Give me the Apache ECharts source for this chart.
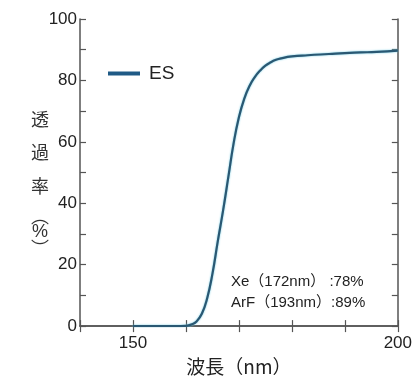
<!DOCTYPE html>
<html><head><meta charset="utf-8">
<script src="https://cdn.jsdelivr.net/npm/echarts@6/dist/echarts.min.js"></script>
<style>html,body{margin:0;padding:0;background:#fff}#c{width:415px;height:381px}</style>
</head><body><div id="c"></div>
<script>
const wavelength = [150,155,158,160,161,162,163,164,165,166,167,168,169,170,171,172,173,174,175,176,177,178,180,183,187,190,193,196,200];
const transmittance = [0,0,0,0.1,0.5,1.5,4,9,17,27.5,37.5,48.5,59.5,68,74,78.2,81.1,83.2,84.8,85.9,86.7,87.2,87.8,88.2,88.6,88.9,89.1,89.3,89.7];
const xTickLabels = [150, 200];
const yTickLabels = [0,20,40,60,80,100];
const seriesName = 'ES';
const notes = ['Xe（172nm） :78%', 'ArF（193nm）:89%'];

const FONT = '"Liberation Sans", Arial, "Noto Sans CJK JP", sans-serif';
const CJK = '"Noto Sans CJK JP", sans-serif';
const axisCol = '#555';
const chart = echarts.init(document.getElementById('c'));
const tickStyle = {show:true, inside:true, length:6, lineStyle:{color:axisCol, width:1.2}};
chart.setOption({
  animation:false,
  grid:{left:80, right:15, top:19, bottom:47},
  xAxis:[{
    type:'value', min:140, max:200, interval:10, position:'bottom',
    axisLine:{show:true, lineStyle:{color:axisCol, width:1.5}},
    axisTick:tickStyle, splitLine:{show:false},
    axisLabel:{color:'#222', fontSize:17, fontFamily:FONT, margin:9,
      formatter:v => xTickLabels.includes(v) ? String(v) : ''},
    name:'波長（nm）', nameLocation:'middle', nameGap:28,
    nameTextStyle:{color:'#222', fontSize:19, fontFamily:CJK}
  },{
    type:'value', min:140, max:200, interval:10, position:'top',
    axisLine:{show:true, lineStyle:{color:axisCol, width:1.5}},
    axisTick:tickStyle, axisLabel:{show:false}, splitLine:{show:false}
  }],
  yAxis:[{
    type:'value', min:0, max:100, interval:10, position:'left',
    axisLine:{show:true, lineStyle:{color:axisCol, width:1.5}},
    axisTick:tickStyle, splitLine:{show:false},
    axisLabel:{color:'#222', fontSize:17, fontFamily:FONT, margin:3,
      formatter:v => yTickLabels.includes(v) ? String(v) : ''}
  },{
    type:'value', min:0, max:100, interval:10, position:'right',
    axisLine:{show:true, lineStyle:{color:axisCol, width:1.5}},
    axisTick:tickStyle, axisLabel:{show:false}, splitLine:{show:false}
  }],
  legend:{show:true, left:103, top:59, icon:'rect', itemWidth:32, itemHeight:4, itemGap:0,
    textStyle:{color:'#222', fontSize:19, fontFamily:FONT, padding:[0,0,0,4]},
    data:[{name:seriesName, itemStyle:{color:'#1f5a86'}}]},
  series:[{
    name:seriesName, type:'line', smooth:0.5, showSymbol:false, symbol:'none',
    data:wavelength.map((x,i)=>[x, transmittance[i]]),
    lineStyle:{color:'#2a5873', width:2.2, shadowColor:'#6cc8e0', shadowBlur:2},
    itemStyle:{color:'#1f5a86'}
  }],
  graphic:[
    {type:'text', left:231, top:274, style:{text:notes[0], fill:'#222', font:'15px '+FONT}},
    {type:'text', left:231, top:295, style:{text:notes[1], fill:'#222', font:'15px '+FONT}},
    {type:'text', left:31, top:110, style:{text:'透', fill:'#333', font:'18px '+CJK}},
    {type:'text', left:31, top:143, style:{text:'過', fill:'#333', font:'18px '+CJK}},
    {type:'text', left:31, top:177, style:{text:'率', fill:'#333', font:'18px '+CJK}},
    {type:'text', left:31, top:207, style:{text:'︵', fill:'#333', font:'18px '+CJK}},
    {type:'text', left:32, top:223, style:{text:'%', fill:'#333', font:'18px '+FONT}},
    {type:'text', left:31, top:239, style:{text:'︶', fill:'#333', font:'18px '+CJK}}
  ]
});
</script></body></html>
